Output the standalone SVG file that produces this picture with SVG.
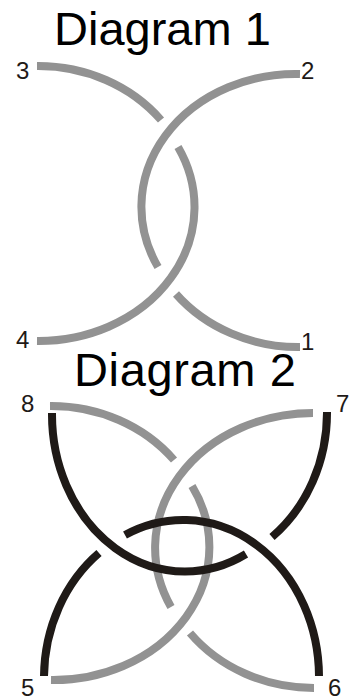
<svg xmlns="http://www.w3.org/2000/svg" width="356" height="700" viewBox="0 0 356 700">
<style>
text{font-family:"Liberation Sans",Arial,sans-serif;fill:#1f1a17}
.t{font-size:47px;fill:#000}
.n{font-size:24px}
path{fill:none;stroke-width:8}
.g{stroke:#929292}
.k{stroke:#1f1a17;stroke-width:8}
</style>
<rect width="356" height="700" fill="#fff"/>
<g id="connectors">
<path class="g" d="M37 66A156 141 0 0 1 161 120"/>
<path class="g" d="M300 74A154 133 0 0 0 158 267"/>
<path class="g" d="M37 341A156 134 0 0 0 178 147"/>
<path class="g" d="M300 347A156 140 0 0 1 176 294"/>
<path class="g" d="M50 406A156 141 0 0 1 174 460"/>
<path class="g" d="M313 413A158 135 0 0 0 171 607"/>
<path class="g" d="M51 680A156 133 0 0 0 192 486"/>
<path class="g" d="M314 688A156 140 0 0 1 190 633"/>
<path class="k" d="M52 413A133 157 0 0 0 246 554"/>
<path class="k" d="M319 676A136 157 0 0 0 125 535"/>
<path class="k" d="M327 412A142 157 0 0 1 272 537"/>
<path class="k" d="M44 676A139 157 0 0 1 99 553"/>
</g>
<g id="title1"><text class="t" x="54" y="45">Diagram 1</text></g>
<g id="title2"><text class="t" x="74" y="386" textLength="222">Diagram 2</text></g>
<g id="n3"><text class="n" x="16" y="79">3</text></g>
<g id="n2"><text class="n" x="301" y="79">2</text></g>
<g id="n4"><text class="n" x="16" y="348">4</text></g>
<g id="n1"><text class="n" x="301" y="350">1</text></g>
<g id="n8"><text class="n" x="21" y="412">8</text></g>
<g id="n7"><text class="n" x="336" y="412">7</text></g>
<g id="n5"><text class="n" x="21" y="696">5</text></g>
<g id="n6"><text class="n" x="328" y="696">6</text></g>
</svg>
